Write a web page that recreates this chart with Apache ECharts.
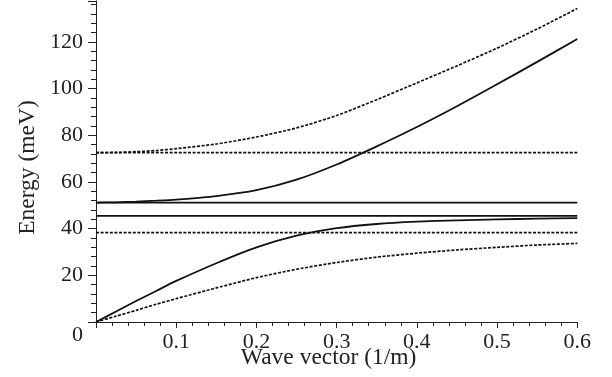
<!DOCTYPE html>
<html>
<head>
<meta charset="utf-8">
<script src="https://cdn.jsdelivr.net/npm/echarts@6/dist/echarts.min.js"></script>
<style>html,body{margin:0;padding:0;background:#fff}#c{width:612px;height:377px}</style>
</head>
<body>
<div id="c"></div>
<script>
// wave vector samples (1/m)
const kCurve = [0, 0.025, 0.05, 0.075, 0.1, 0.15, 0.2, 0.25, 0.3, 0.35, 0.4, 0.45, 0.5, 0.55, 0.6];
// upper dotted branch (meV)
const upperDotted = [72.6, 72.7, 73.0, 73.5, 74.3, 76.3, 79.3, 83.2, 88.5, 95.3, 102.5, 109.8, 117.4, 125.6, 134.4];
// upper solid branch
const upperSolid  = [51.2, 51.3, 51.6, 52.0, 52.5, 54.0, 56.5, 61.0, 67.5, 75.3, 83.6, 92.5, 101.9, 111.5, 121.3];
// lower solid branch
const lowerSolid  = [0, 4.5, 9.0, 13.3, 17.6, 25.2, 32.0, 37.0, 40.2, 42.0, 43.0, 43.6, 44.0, 44.3, 44.5];
// lower dotted branch
const lowerDotted = [0, 2.5, 5.0, 7.6, 10.0, 14.6, 19.0, 22.6, 25.5, 27.8, 29.5, 30.9, 32.0, 33.0, 33.7];
// flat levels
const kFlat = [0, 0.6];
const flatDottedHigh = 72.6;
const flatSolidHigh = 51.2;
const flatSolidLow = 45.5;
const flatDottedLow = 38.3;
// axis ticks
const xTicks = [0.1, 0.2, 0.3, 0.4, 0.5, 0.6];
const yTicks = [0, 20, 40, 60, 80, 100, 120];

const pairs = (xs, ys) => xs.map((x, i) => [x, ys[i]]);
const flat = v => kFlat.map(x => [x, v]);

const font = 'Liberation Serif, Times New Roman, serif';
const txt = '#222';
const solid = {color: '#111', width: 1.8, type: 'solid'};
const dotted = {color: '#111', width: 1.7, type: [3, 1.6]};

const mk = (data, style, smooth) => ({
  type: 'line', data, showSymbol: false, symbol: 'none', smooth: smooth ? 0.25 : false,
  lineStyle: style, silent: true, animation: false
});

const chart = echarts.init(document.getElementById('c'), null, {renderer: 'canvas'});
chart.setOption({
  animation: false,
  backgroundColor: '#fff',
  grid: {left: 96, right: 34.7, top: 1, bottom: 55, containLabel: false, outerBoundsMode: 'none'},
  xAxis: {
    type: 'value', min: 0, max: 0.6, interval: 0.1,
    name: 'Wave vector (1/m)', nameLocation: 'middle', nameGap: 24, nameMoveOverlap: false,
    nameTextStyle: {fontFamily: font, fontSize: 23.5, color: txt, padding: [0, 16, 0, 0]},
    axisLine: {show: true, onZero: false, lineStyle: {color: '#222', width: 1}},
    axisTick: {show: true, inside: false, length: 6, lineStyle: {color: '#222'}},
    minorTick: {show: true, splitNumber: 5, length: 4, lineStyle: {color: '#222'}},
    splitLine: {show: false},
    axisLabel: {
      fontFamily: font, fontSize: 22, color: txt, margin: 9, showMinLabel: false,
      formatter: v => (xTicks.some(t => Math.abs(t - v) < 1e-9) ? String(+v.toFixed(1)) : '')
    }
  },
  yAxis: {
    type: 'value', min: 0, max: 137.6, interval: 20,
    name: 'Energy (meV)', nameLocation: 'middle', nameGap: 56, nameMoveOverlap: false,
    nameTextStyle: {fontFamily: font, fontSize: 23.5, color: txt, padding: [0, 12, 0, 0]},
    axisLine: {show: true, onZero: false, lineStyle: {color: '#222', width: 1}},
    axisTick: {show: true, inside: false, length: 8, lineStyle: {color: '#222'}},
    minorTick: {show: true, splitNumber: 5, length: 5, lineStyle: {color: '#222'}},
    splitLine: {show: false},
    axisLabel: {
      fontFamily: font, fontSize: 22, color: txt, margin: 13, showMaxLabel: false,
      formatter: v => (yTicks.indexOf(v) === 0 ? '{z|0}' : (yTicks.indexOf(v) > 0 ? String(v) : '')),
      rich: {z: {fontFamily: font, fontSize: 22, color: txt, padding: [26, 0, 0, 0]}}
    }
  },
  series: [
    mk(flat(flatDottedHigh), dotted),
    mk(flat(flatSolidHigh), solid),
    mk(flat(flatSolidLow), solid),
    mk(flat(flatDottedLow), dotted),
    mk(pairs(kCurve, upperDotted), dotted, true),
    mk(pairs(kCurve, upperSolid), solid, true),
    mk(pairs(kCurve, lowerSolid), solid, true),
    mk(pairs(kCurve, lowerDotted), dotted, true)
  ]
});
</script>
</body>
</html>
